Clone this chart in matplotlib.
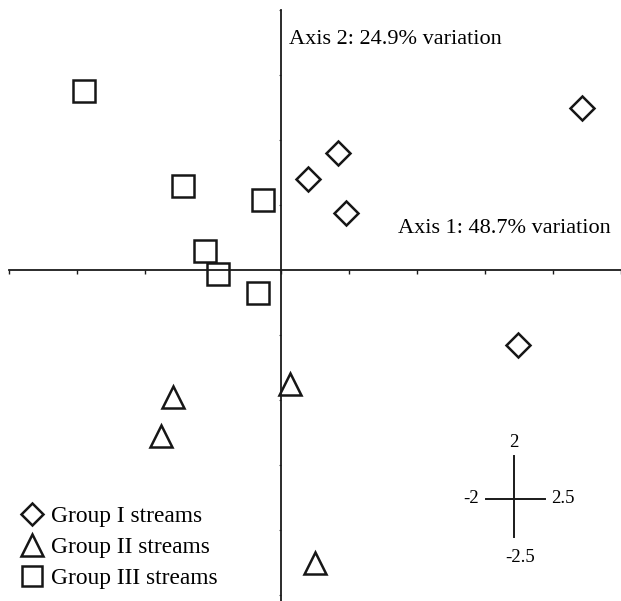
import matplotlib
matplotlib.use("Agg")
import matplotlib.pyplot as plt

plt.rcParams["font.family"] = "Liberation Serif"

# ordination scores (axis 1, axis 2)
group1_x = [2.21, 0.42, 0.20, 0.48, 1.74]
group1_y = [1.25, 0.90, 0.70, 0.44, -0.58]

group2_x = [-0.79, -0.88, 0.07, 0.25]
group2_y = [-0.98, -1.28, -0.88, -2.25]

group3_x = [-1.45, -0.72, -0.13, -0.56, -0.46, -0.17]
group3_y = [1.38, 0.65, 0.54, 0.15, -0.03, -0.18]

labels = ["Group I streams", "Group II streams", "Group III streams"]
axis1_label = "Axis 1: 48.7% variation"
axis2_label = "Axis 2: 24.9% variation"

# axis ranges shown by the little scale cross
x_min, x_max = -2, 2.5
y_min, y_max = -2.5, 2

fig = plt.figure(figsize=(6.21, 6.01), dpi=100)
ax = fig.add_axes([0, 0, 1, 1])

mk = dict(linestyle="none", markerfacecolor="white", markeredgecolor="#161616",
          markeredgewidth=1.8)
h1, = ax.plot(group1_x, group1_y, marker="D", markersize=11.8, label=labels[0], **mk)
h2, = ax.plot(group2_x, group2_y, marker="^", markersize=16, label=labels[1], **mk)
h3, = ax.plot(group3_x, group3_y, marker="s", markersize=15.5, label=labels[2], **mk)

ax.set_xlim(-2.065, 2.435)
ax.set_ylim(-2.546, 2.077)

# axes crossing at the origin
for s in ["top", "right"]:
    ax.spines[s].set_visible(False)
ax.spines["left"].set_position(("data", 0))
ax.spines["bottom"].set_position(("data", 0))
ax.spines["left"].set_bounds(-2.546, y_max)
ax.spines["bottom"].set_bounds(x_min, x_max)
for s in ["left", "bottom"]:
    ax.spines[s].set_linewidth(1.3)
    ax.spines[s].set_color("#1a1a1a")

ticks_x = [x_min + 0.5 * i for i in range(10)]
ticks_y = [y_min + 0.5 * i for i in range(10)]
ax.set_xticks(ticks_x)
ax.set_yticks(ticks_y)
ax.tick_params(axis="x", direction="out", length=3, width=1, color="#1a1a1a",
               labelbottom=False)
ax.tick_params(axis="y", direction="out", length=1.5, width=0.8, color="#555555",
               labelleft=False)

ax.text(0.058, 1.77, axis2_label, fontsize=16, ha="left", va="center")
ax.text(2.425, 0.32, axis1_label, fontsize=16, ha="right", va="center")

# scale cross
cx, cy = 1.71, -1.76
ax.plot([1.51, 1.94], [cy, cy], color="#1a1a1a", lw=1.4)
ax.plot([cx, cx], [-1.43, -2.05], color="#1a1a1a", lw=1.4)
ax.text(cx, -1.33, str(y_max), fontsize=13.5, ha="center", va="center")
ax.text(1.40, cy, str(x_min), fontsize=13.5, ha="center", va="center")
ax.text(2.07, cy, str(x_max), fontsize=13.5, ha="center", va="center")
ax.text(1.76, -2.21, str(y_min), fontsize=13.5, ha="center", va="center")

ax.legend(handles=[h1, h2, h3], loc="lower left", bbox_to_anchor=(0.012, -0.004),
          frameon=False, fontsize=16.8, markerscale=0.95, handlelength=0.9,
          handletextpad=0.35, labelspacing=0.42, borderaxespad=0.2)

fig.savefig("out.png", dpi=100)
